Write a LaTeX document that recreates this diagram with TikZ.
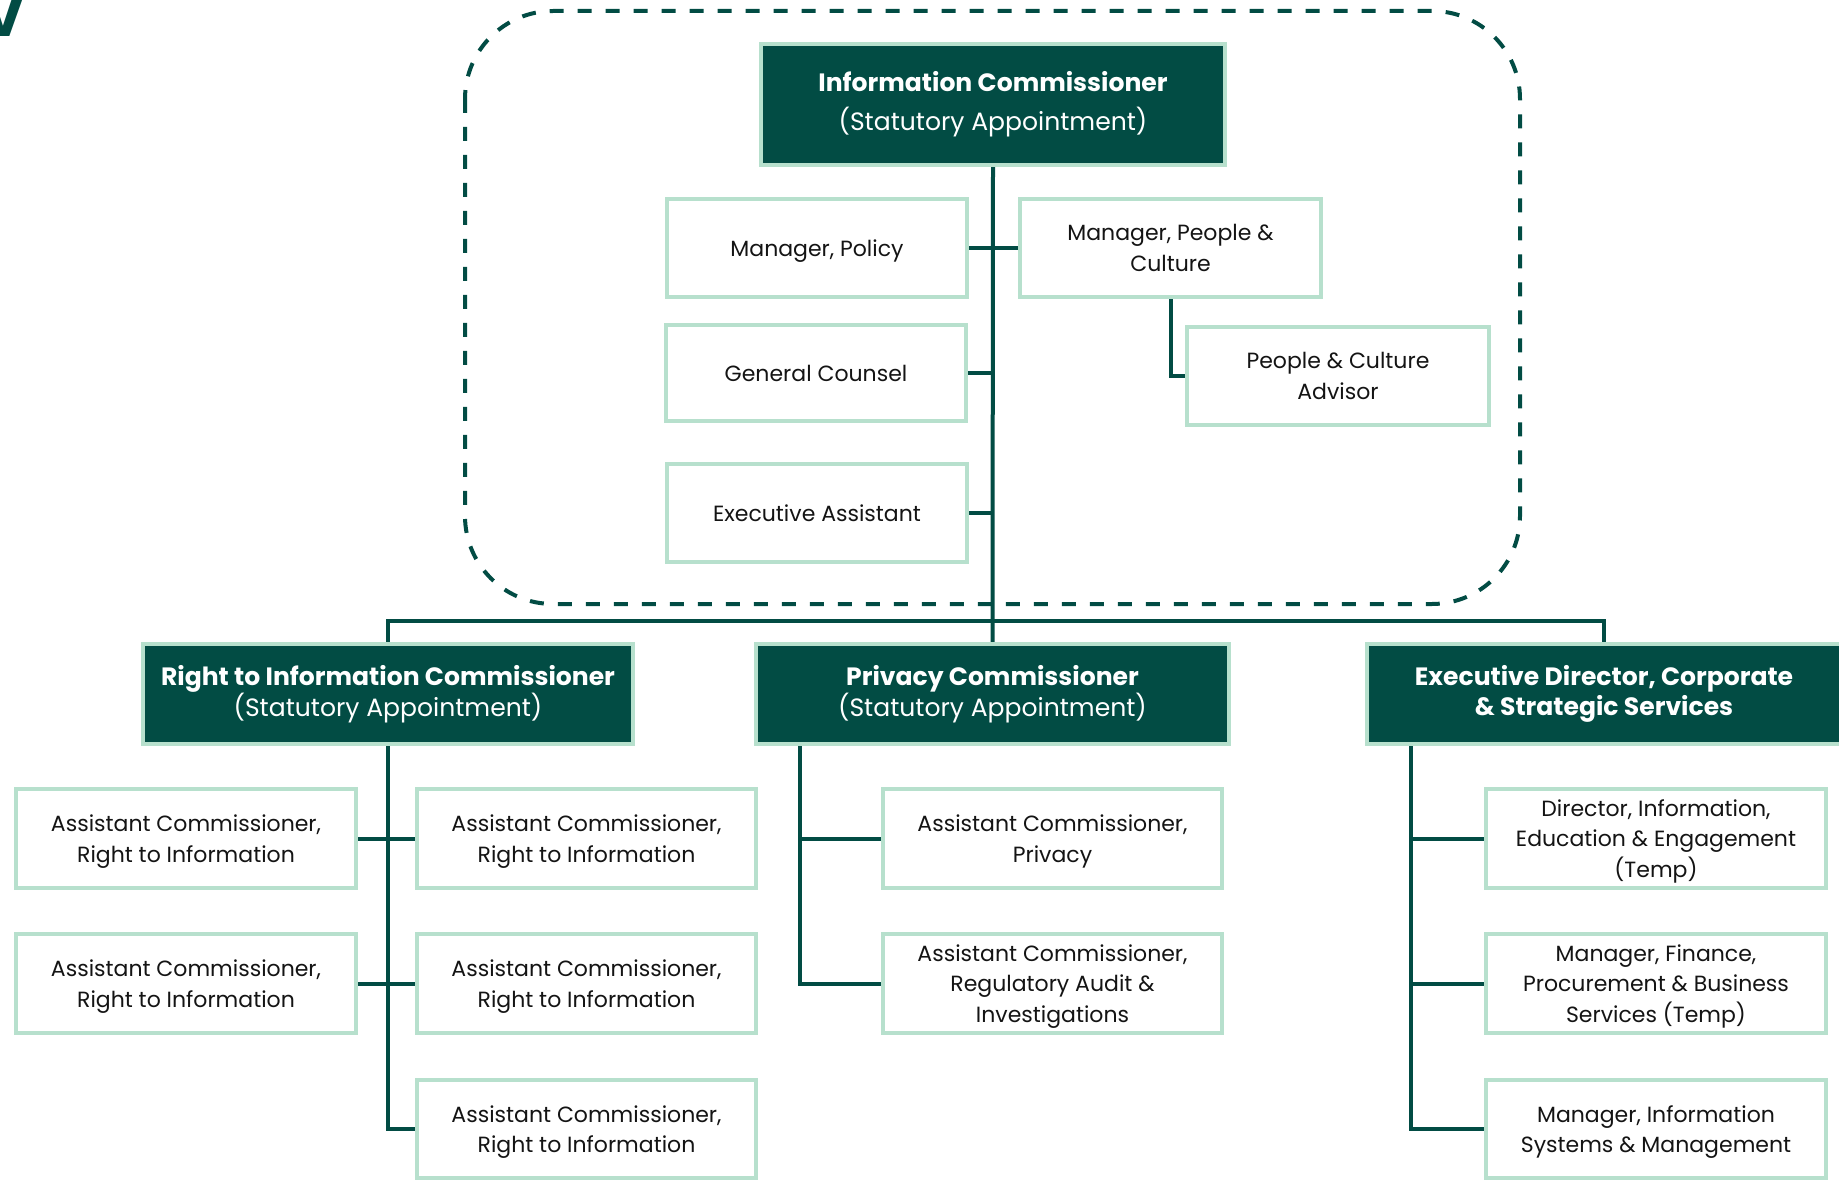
\documentclass[tikz,border=0pt]{standalone}
\usepackage{fontspec}
\setmainfont{Poppins}
\definecolor{dkgreen}{RGB}{2,76,68}
\definecolor{mint}{RGB}{183,224,205}
\definecolor{ink}{RGB}{20,20,20}
\pgfdeclarelayer{bg}
\pgfsetlayers{bg,main}
\tikzset{
  sz/.style 2 args={minimum width=#1*0.75pt-3pt, minimum height=#2*0.75pt-3pt},
  wbox/.style={draw=mint, line width=3pt, fill=white, text=ink, align=center, inner sep=0pt,
    text depth=0pt, font=\fontsize{16.5pt}{23pt}\selectfont},
  dbox/.style={draw=mint, line width=3pt, fill=dkgreen, text=white, align=center, inner sep=0pt,
    font=\fontsize{18.8pt}{23pt}\selectfont},
  link/.style={draw=dkgreen, line width=3pt},
  frame/.style={draw=dkgreen, line width=3pt, dash pattern=on 10.5pt off 10.5pt, rounded corners=66pt},
}
\begin{document}
\begin{tikzpicture}[x=0.75pt,y=-0.75pt]
\useasboundingbox (0,0) rectangle (1839,1180);
\clip (0,0) rectangle (1839,1180);

% corner glyph
\node[anchor=base, text=dkgreen, inner sep=0pt, font=\fontsize{45pt}{45pt}\selectfont\bfseries] (vmark) at (3,37) {V};

% top group
\node[dbox, sz={468}{125}, font=\fontsize{18.8pt}{29.5pt}\selectfont] (ic) at (993,104.5)
  {\textbf{Information Commissioner}\\(Statutory Appointment)};
\node[wbox, sz={304}{102}] (mp) at (817,248) {Manager, Policy};
\node[wbox, sz={305}{102}] (mpc) at (1170.5,248) {Manager, People \&\\Culture};
\node[wbox, sz={304}{100}] (gc) at (816,373.5) {General Counsel};
\node[wbox, sz={306}{102}] (pca) at (1338,376) {People \& Culture\\Advisor};
\node[wbox, sz={304}{102}] (ea) at (817,513) {Executive Assistant};

% second level
\node[dbox, sz={494}{104}] (rti) at (388,694)
  {\textbf{Right to Information Commissioner}\\(Statutory Appointment)};
\node[dbox, sz={477}{104}] (pc) at (992.5,694)
  {\textbf{Privacy Commissioner}\\(Statutory Appointment)};
\node[dbox, sz={478}{104}] (ed) at (1604,694)
  {\textbf{Executive Director, Corporate}\\\textbf{\& Strategic Services}};

% RTI staff
\node[wbox, sz={344}{103}] (l1) at (186,838.5) {Assistant Commissioner,\\Right to Information};
\node[wbox, sz={344}{103}] (l2) at (186,983.5) {Assistant Commissioner,\\Right to Information};
\node[wbox, sz={343}{103}] (r1) at (586.5,838.5) {Assistant Commissioner,\\Right to Information};
\node[wbox, sz={343}{103}] (r2) at (586.5,983.5) {Assistant Commissioner,\\Right to Information};
\node[wbox, sz={343}{102}] (r3) at (586.5,1129) {Assistant Commissioner,\\Right to Information};

% Privacy staff
\node[wbox, sz={343}{103}] (p1) at (1052.5,838.5) {Assistant Commissioner,\\Privacy};
\node[wbox, sz={343}{103}] (p2) at (1052.5,983.5) {Assistant Commissioner,\\Regulatory Audit \&\\Investigations};

% Corporate staff
\node[wbox, sz={344}{103}] (e1) at (1656,838.5) {Director, Information,\\Education \& Engagement\\(Temp)};
\node[wbox, sz={344}{103}] (e2) at (1656,983.5) {Manager, Finance,\\Procurement \& Business\\Services (Temp)};
\node[wbox, sz={344}{102}] (e3) at (1656,1129) {Manager, Information\\Systems \& Management};

\coordinate (bus) at (993,621);
\coordinate (pcl) at ([xshift=34.5pt]pc.south west);
\coordinate (edl) at ([xshift=34.5pt]ed.south west);

\begin{pgfonlayer}{bg}
  \draw[frame] (465,11) rectangle (1520,604);
  \draw[link] (ic.south) -- (pc.north);
  \draw[link] (rti.north) |- (bus) -| (ed.north);
  \draw[link] (mp.east) -- (mpc.west);
  \draw[link] (gc.east) -- (gc.east -| ic.south);
  \draw[link] (ea.east) -- (ea.east -| ic.south);
  \draw[link] (mpc.south) |- (pca.west);
  \draw[link] (rti.south) |- (r3.west);
  \draw[link] (l1.east) -- (r1.west);
  \draw[link] (l2.east) -- (r2.west);
  \draw[link] (pcl) |- (p2.west);
  \draw[link] (p1.west) -- (p1.west -| pcl);
  \draw[link] (edl) |- (e3.west);
  \draw[link] (e1.west) -- (e1.west -| edl);
  \draw[link] (e2.west) -- (e2.west -| edl);
\end{pgfonlayer}
\end{tikzpicture}
\end{document}
